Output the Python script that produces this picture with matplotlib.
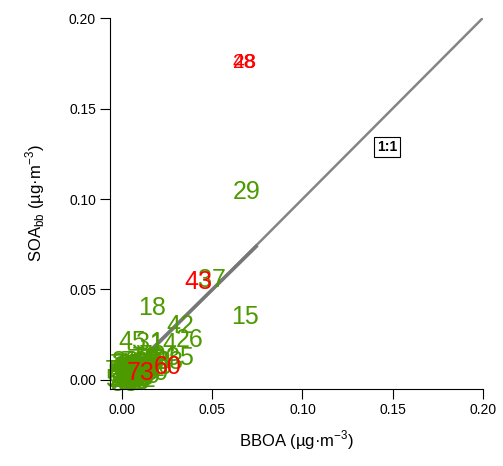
import numpy as np
import matplotlib.pyplot as plt

plt.rcParams['font.family'] = ['Liberation Sans', 'DejaVu Sans']
plt.rcParams['mathtext.fontset'] = 'custom'
plt.rcParams['mathtext.rm'] = 'Liberation Sans'

# labelled points (label, BBOA, SOAbb)
green_labels = [29, 37, 15, 18, 42, 45, 31, 14, 26, 35,
                1, 2, 3, 4, 5, 6, 7, 8, 9, 10, 11, 12, 13, 16, 17, 19, 20,
                21, 22, 23, 24, 25, 27, 30, 32, 34, 36, 38, 39, 40, 41, 44,
                46, 47, 49, 50, 51, 52, 53, 54, 33,
                55, 56, 57, 58, 59, 61, 62, 63, 64, 65, 66, 67, 68, 69, 70,
                71, 72, 74, 75, 76, 77, 78, 79, 80]
green_x = [0.0688, 0.0499, 0.068, 0.0165, 0.032, 0.0054, 0.0154, 0.0226, 0.0376, 0.032,
           0.000, 0.002, 0.004, 0.001, 0.006, 0.003, 0.008, 0.000, 0.005, 0.010, 0.002,
           0.007, 0.012, 0.001, 0.004, 0.009, 0.011, 0.006, 0.003, 0.014, 0.000, 0.008,
           0.005, 0.013, 0.016, 0.002, 0.010, 0.007, 0.015, 0.018, 0.012, 0.004, 0.020,
           0.001, 0.009, 0.006, 0.003, 0.011, 0.019, 0.022, 0.026,
           -0.002, -0.001, 0.000, 0.001, 0.002, 0.003, 0.004, 0.005, 0.006, 0.007, 0.008,
           0.009, 0.010, 0.012, 0.014, 0.016, -0.002, 0.001, 0.004, 0.007, 0.010, 0.013,
           0.017, 0.002]
green_y = [0.104, 0.055, 0.035, 0.040, 0.030, 0.021, 0.0204, 0.020, 0.022, 0.012,
           0.001, 0.000, 0.002, 0.004, 0.001, -0.001, 0.003, 0.006, 0.005, 0.002, 0.003,
           0.006, 0.004, 0.002, 0.000, 0.000, 0.006, 0.008, 0.007, 0.005, 0.000, 0.001,
           0.003, 0.002, 0.006, 0.009, 0.008, -0.001, 0.009, 0.004, 0.010, 0.009, 0.007,
           -0.001, 0.005, 0.004, 0.005, 0.000, 0.010, 0.012, 0.010,
           0.000, 0.003, 0.005, -0.002, 0.002, 0.004, -0.001, 0.000, 0.003, 0.002, -0.001,
           0.004, 0.001, 0.007, 0.008, 0.011, 0.005, 0.008, 0.006, 0.010, 0.011, 0.012,
           0.013, 0.010]

red_labels = [28, 48, 43, 73, 60]
red_x = [0.0676, 0.0676, 0.042, 0.0104, 0.0254]
red_y = [0.1757, 0.1752, 0.054, 0.0039, 0.0072]

one_x = [-0.007, 0.2]
one_y = [-0.007, 0.2]
fit_x = [0.0, 0.075]
fit_y = [0.001, 0.0745]

green = '#4c9a00'

fig = plt.figure(figsize=(5.03, 4.66), dpi=100)
ax = fig.add_axes([0.2187, 0.1652, 0.741, 0.796])

# lines go under the labels, the cluster hides them near the origin
ax.plot(one_x, one_y, color='#858585', lw=1.8, zorder=0.5, solid_capstyle='butt')
ax.plot(fit_x, fit_y, color='#777777', lw=2.6, zorder=0.5, solid_capstyle='butt')

for lab, x, y in zip(green_labels, green_x, green_y):
    ax.text(x, y, str(lab), color=green, fontsize=18, ha='center', va='center',
            clip_on=False, zorder=1)

for lab, x, y in zip(red_labels, red_x, red_y):
    fs = 15 if lab in (28, 48) else 18
    ax.text(x, y, str(lab), color='red', fontsize=fs, ha='center', va='center',
            clip_on=False, zorder=3)

ax.text(0.147, 0.1287, '1:1', fontsize=10, fontweight='bold', ha='center', va='center',
        bbox=dict(boxstyle='square,pad=0.2', fc='white', ec='black', lw=0.8), zorder=4)

ax.set_xlim(-0.0068, 0.2)
ax.set_ylim(-0.005, 0.2)
ax.set_xticks([0, 0.05, 0.10, 0.15, 0.20])
ax.set_yticks([0, 0.05, 0.10, 0.15, 0.20])
ax.xaxis.set_major_formatter(plt.FormatStrFormatter('%.2f'))
ax.yaxis.set_major_formatter(plt.FormatStrFormatter('%.2f'))
ax.tick_params(direction='out', length=7, width=0.8, labelsize=10, pad=3)
ax.spines['top'].set_visible(False)
ax.spines['right'].set_visible(False)

ax.set_xlabel('BBOA (µg·m$^{-3}$)', fontsize=12, labelpad=8)
ax.set_ylabel('SOA$_\\mathregular{bb}$ (µg·m$^{-3}$)', fontsize=12, labelpad=16)

fig.savefig('out.png', dpi=100)
